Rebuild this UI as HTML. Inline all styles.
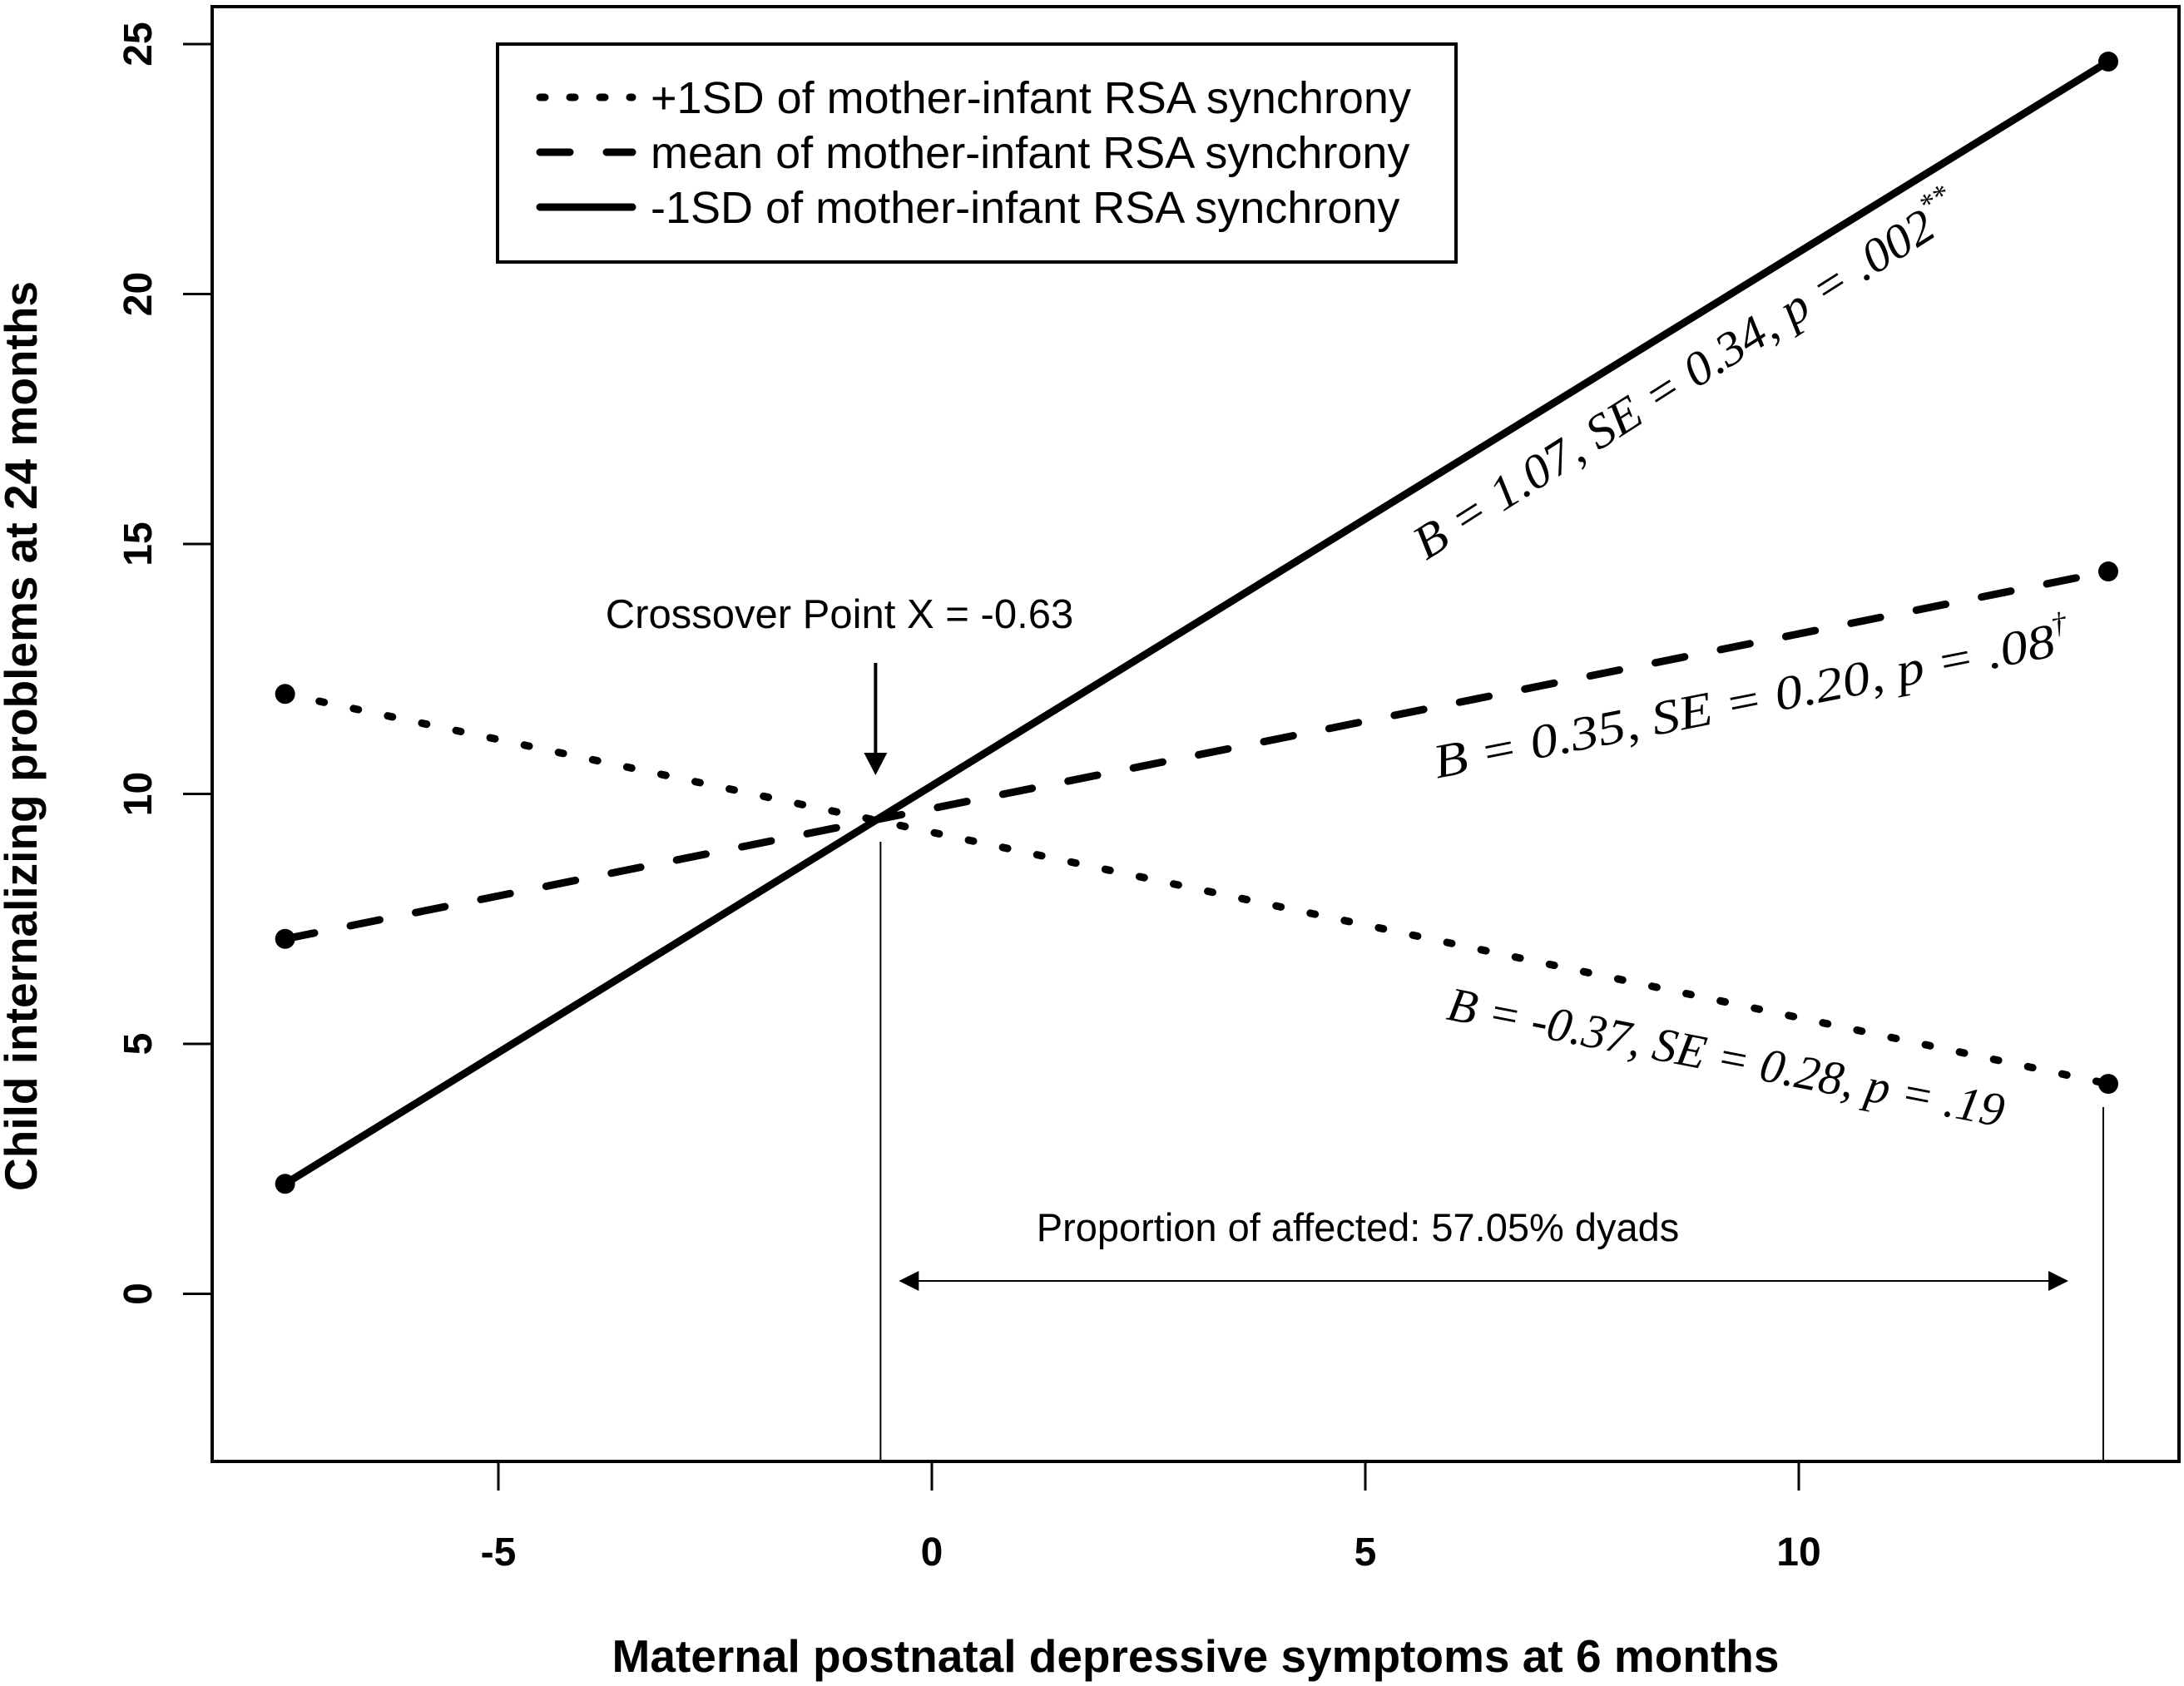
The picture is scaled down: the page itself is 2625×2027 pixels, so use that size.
<!DOCTYPE html>
<html><head><meta charset="utf-8">
<style>
html,body{margin:0;padding:0;background:#fff;}
svg{display:block;}
text{font-family:"Liberation Sans",Arial,sans-serif;fill:#000;}
.serif{font-family:"Liberation Serif","Times New Roman",serif;font-style:italic;}
</style></head>
<body>
<svg id="chart" width="2625" height="2027" viewBox="0 0 2625 2027" xmlns="http://www.w3.org/2000/svg">
<rect x="255" y="8" width="2364" height="1749" fill="none" stroke="#000" stroke-width="4"/>
<g id="axes"></g>
<g id="series"></g>
<g id="annot"></g>
<g>
<rect x="598" y="53" width="1152" height="262" fill="#fff" stroke="#000" stroke-width="4"/>
<line x1="649" y1="117" x2="760" y2="117" stroke="#000" stroke-width="9" stroke-linecap="round" stroke-dasharray="6 30"/>
<text x="782" y="136" font-size="54">+1SD of mother-infant RSA synchrony</text>
<line x1="649" y1="183" x2="760" y2="183" stroke="#000" stroke-width="9" stroke-linecap="round" stroke-dasharray="36 44"/>
<text x="782" y="202" font-size="54">mean of mother-infant RSA synchrony</text>
<line x1="649" y1="249" x2="760" y2="249" stroke="#000" stroke-width="9" stroke-linecap="round"/>
<text x="782" y="268" font-size="54">-1SD of mother-infant RSA synchrony</text>
</g>
<text x="1437" y="2010" font-size="55" font-weight="bold" text-anchor="middle">Maternal postnatal depressive symptoms at 6 months</text>
<text transform="translate(44,885) rotate(-90)" font-size="55" font-weight="bold" text-anchor="middle">Child internalizing problems at 24 months</text>
</svg>
<script>
const xTicks = [-5, 0, 5, 10];
const yTicks = [0, 5, 10, 15, 20, 25];
const seriesNames = ['plus1sd', 'mean', 'minus1sd'];
const xEnds = [-7.46, 13.57];
const plus1sdY = [12.0, 4.2];
const meanY = [7.1, 14.45];
const minus1sdY = [2.2, 24.65];
const crossoverX = -0.63;
const affectedRange = [-0.63, 13.57];

const NS = 'http://www.w3.org/2000/svg';
function sx(v){ return 1120 + v * 104.2; }
function sy(v){ return 1555.5 - v * 60.1; }
function mk(parent, tag, attrs){
  const e = document.createElementNS(NS, tag);
  for (const k in attrs) e.setAttribute(k, attrs[k]);
  parent.appendChild(e);
  return e;
}
const axes = document.getElementById('axes');
xTicks.forEach(t => {
  const l = mk(axes, 'line', {x1: sx(t), x2: sx(t), y1: 1757, y2: 1792, stroke: '#000', 'stroke-width': 3});
  
  
  const tx = mk(axes, 'text', {x: sx(t), y: 1882, 'font-size': 48, 'font-weight': 'bold', 'text-anchor': 'middle'});
  tx.textContent = String(t);
  
  
});
yTicks.forEach(t => {
  const l = mk(axes, 'line', {x1: 220, x2: 255, y1: sy(t), y2: sy(t), stroke: '#000', 'stroke-width': 3});
  
  
  const tx = mk(axes, 'text', {transform: 'translate(182,' + sy(t) + ') rotate(-90)', 'font-size': 48, 'font-weight': 'bold', 'text-anchor': 'middle'});
  tx.textContent = String(t);
  
  
});
const ser = document.getElementById('series');
const ys = {plus1sd: plus1sdY, mean: meanY, minus1sd: minus1sdY};
const dash = {plus1sd: '6 36', mean: '36 44', minus1sd: ''};
seriesNames.forEach(n => {
  const y = ys[n];
  const attrs = {x1: sx(xEnds[0]), y1: sy(y[0]), x2: sx(xEnds[1]), y2: sy(y[1]), stroke: '#000', 'stroke-width': 9, 'stroke-linecap': 'round'};
  if (dash[n]) attrs['stroke-dasharray'] = dash[n];
  const l = mk(ser, 'line', attrs);
  
  
  for (let i = 0; i < 2; i++) {
    const c = mk(ser, 'circle', {cx: sx(xEnds[i]), cy: sy(y[i]), r: 12, fill: '#000'});
    
    
  }
});
const an = document.getElementById('annot');
const v1 = mk(an, 'line', {x1: sx(crossoverX) + 4, x2: sx(crossoverX) + 4, y1: 1012, y2: 1757, stroke: '#000', 'stroke-width': 2});


const v2 = mk(an, 'line', {x1: sx(xEnds[1]) - 6, x2: sx(xEnds[1]) - 6, y1: 1331, y2: 1757, stroke: '#000', 'stroke-width': 2});


const ax = sx(crossoverX) - 2;
const arr = mk(an, 'line', {x1: ax, x2: ax, y1: 797, y2: 910, stroke: '#000', 'stroke-width': 4});


const ah = mk(an, 'polygon', {points: (ax-14)+',905 '+(ax+14)+',905 '+ax+',932', fill: '#000'});


const ct = mk(an, 'text', {x: 1009, y: 755, 'font-size': 49, 'text-anchor': 'middle'});
ct.textContent = 'Crossover Point X = -0.63';


const hx1 = sx(affectedRange[0]) + 26, hx2 = sx(affectedRange[1]) - 48;
const hl = mk(an, 'line', {x1: hx1 + 10, x2: hx2 - 10, y1: 1540, y2: 1540, stroke: '#000', 'stroke-width': 2});


const h1 = mk(an, 'polygon', {points: hx1+',1540 '+(hx1+24)+',1528 '+(hx1+24)+',1552', fill: '#000'});


const h2 = mk(an, 'polygon', {points: hx2+',1540 '+(hx2-24)+',1528 '+(hx2-24)+',1552', fill: '#000'});


const pt = mk(an, 'text', {x: 1632, y: 1492, 'font-size': 47, 'text-anchor': 'middle'});
pt.textContent = 'Proportion of affected: 57.05% dyads';



function stat(cx, cy, ang, main, sup, len, name){
  const t = mk(an, 'text', {transform: 'translate(' + cx + ',' + cy + ') rotate(' + ang + ')', 'font-size': 58, class: 'serif'});
  
  
  const a = mk(t, 'tspan', {x: -len / 2, textLength: len, lengthAdjust: 'spacingAndGlyphs'}); a.textContent = main;
  if (sup) { const s = mk(t, 'tspan', {dy: -26, 'font-size': 36}); s.textContent = sup; }
}
stat(2022, 478, -32.5, 'B = 1.07, SE = 0.34, p = .002', '**', 730, 'slope-label-minus1sd');
stat(2100, 862, -11.2, 'B = 0.35, SE = 0.20, p = .08', '†', 760, 'slope-label-mean');
stat(2071, 1290, 11, 'B = -0.37, SE = 0.28, p = .19', '', 680, 'slope-label-plus1sd');
</script>
</body></html>
